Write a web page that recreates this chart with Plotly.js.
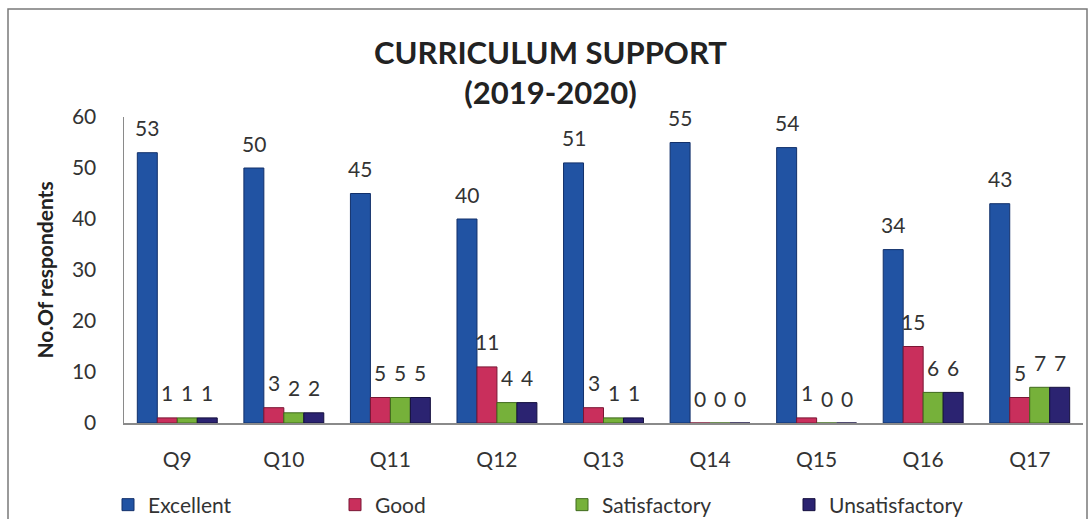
<!DOCTYPE html>
<html>
<head>
<meta charset="utf-8">
<script src="https://cdn.plot.ly/plotly-3.0.1.min.js"></script>
<style>
  html, body { margin: 0; padding: 0; background: #ffffff; }
  #chart { width: 1090px; height: 519px; }
</style>
</head>
<body>
<div id="chart"></div>
<script>
// ---- data ----
var categories = ["Q9", "Q10", "Q11", "Q12", "Q13", "Q14", "Q15", "Q16", "Q17"];
var excellent      = [53, 50, 45, 40, 51, 55, 54, 34, 43];
var good           = [1, 3, 5, 11, 3, 0, 1, 15, 5];
var satisfactory   = [1, 2, 5, 4, 1, 0, 0, 6, 7];
var unsatisfactory = [1, 2, 5, 4, 1, 0, 0, 6, 7];
var seriesNames = ["Excellent", "Good", "Satisfactory", "Unsatisfactory"];
var yTicks = [0, 10, 20, 30, 40, 50, 60];

var seriesValues = [excellent, good, satisfactory, unsatisfactory];
var colors = ["#2153a3", "#c92f5c", "#76b13a", "#2b2371"];
var lineColors = ["#12306a", "#7a1634", "#3f6a1c", "#140f3e"];
var font = "Lato, 'Open Sans', sans-serif";

var traces = seriesValues.map(function (vals, s) {
  return {
    type: "bar",
    name: seriesNames[s],
    x: categories,
    y: vals,
    marker: { color: colors[s], line: { color: lineColors[s], width: 1 } },
    hoverinfo: "x+y+name"
  };
});

// data labels via annotations positioned on the data scales
var offsets = [-30, -10, 10, 30];
var annotations = [];
seriesValues.forEach(function (vals, s) {
  vals.forEach(function (v, i) {
    annotations.push({
      x: categories[i], y: v, xref: "x", yref: "y",
      text: String(v), showarrow: false,
      xshift: offsets[s], yshift: 25,
      font: { family: font, size: 21, color: "#333333" }
    });
  });
});

var L = 124, R = 7, T = 117, B = 96, W = 1090, H = 519;
var pw = W - L - R, ph = H - T - B;
function px2x(p) { return (p - L) / pw; }
function py2y(p) { return (H - B - p) / ph; }

var layout = {
  width: W, height: H,
  margin: { l: L, r: R, t: T, b: B, pad: 0, autoexpand: false },
  paper_bgcolor: "#ffffff",
  plot_bgcolor: "#ffffff",
  font: { family: font, color: "#333333" },
  title: {
    text: "<b>CURRICULUM SUPPORT<br>(2019-2020)</b>",
    font: { family: font, size: 31, color: "#222222" },
    x: 0.505, xanchor: "center",
    y: 1 - 64 / H, yanchor: "middle", yref: "container"
  },
  barmode: "group",
  bargap: 0.25,
  bargroupgap: 0,
  showlegend: true,
  legend: {
    orientation: "h",
    x: px2x(108), xanchor: "left",
    y: py2y(505), yanchor: "middle",
    entrywidth: 182, entrywidthmode: "pixels",
    itemwidth: 30,
    font: { family: font, size: 21, color: "#333333" },
    traceorder: "normal"
  },
  xaxis: {
    type: "category",
    showgrid: false,
    showline: true, linecolor: "#8a8a8a", linewidth: 1.5,
    ticks: "", ticklabelstandoff: 17,
    tickfont: { family: font, size: 21, color: "#333333" },
    zeroline: false, fixedrange: true
  },
  yaxis: {
    range: [0, 60],
    tickvals: yTicks,
    showgrid: false,
    showline: true, linecolor: "#8a8a8a", linewidth: 1.5,
    ticks: "", ticklabelstandoff: 22,
    tickfont: { family: font, size: 21, color: "#333333" },
    zeroline: false, fixedrange: true,
    title: {
      text: "<b>No.Of respondents</b>",
      font: { family: font, size: 21, color: "#222222" },
      standoff: 12
    }
  },
  annotations: annotations,
  shapes: [{
    type: "rect", xref: "paper", yref: "paper",
    x0: px2x(8), x1: px2x(1087), y0: py2y(540), y1: py2y(9),
    line: { color: "#7a7a7a", width: 1.5 }, fillcolor: "rgba(0,0,0,0)", layer: "below"
  }]
};

Plotly.newPlot("chart", traces, layout, { displayModeBar: false, staticPlot: true });
</script>
</body>
</html>
